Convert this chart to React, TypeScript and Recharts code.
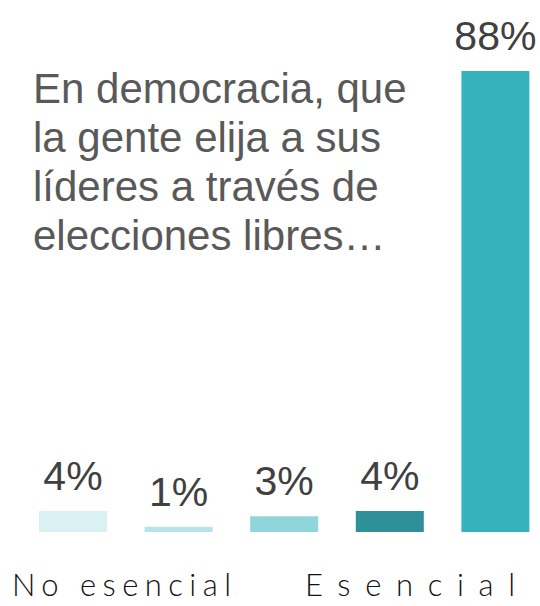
import { BarChart, Bar, XAxis, YAxis, Cell, LabelList } from 'recharts';

const categories = ['1', '2', '3', '4', '5'];
const values = [4, 1, 3, 4, 88];
const labels = ['4%', '1%', '3%', '4%', '88%'];
const COLORS = ['#DAF1F3', '#B8E4E9', '#8FD5DC', '#2E9098', '#34B3BC'];

const titleLines = [
  'En democracia, que',
  'la gente elija a sus',
  'líderes a través de',
  'elecciones libres…',
];
const scaleLabels = ['No esencial', 'Esencial'];

const data = categories.map((c, i) => ({ name: c, value: values[i], label: labels[i] }));

const FONT = '"Liberation Sans", Arial, sans-serif';

export default function App() {
  return (
    <div style={{ position: 'absolute', left: 0, top: 0, width: 540, height: 606, overflow: 'hidden', background: '#fff' }}>
      <BarChart width={548} height={606} data={data} margin={{ top: 71, right: 0, bottom: 74, left: 20 }}>
        <XAxis dataKey="name" hide />
        <YAxis hide domain={[0, 88]} />
        <Bar dataKey="value" barSize={68} isAnimationActive={false}>
          {data.map((_, i) => (
            <Cell key={i} fill={COLORS[i]} />
          ))}
          <LabelList
            dataKey="label"
            position="top"
            offset={21}
            fill="#404040"
            style={{ fontSize: 41, fontFamily: FONT }}
          />
        </Bar>
      </BarChart>
      <svg width={540} height={606} style={{ position: 'absolute', left: 0, top: 0, pointerEvents: 'none' }}>
        {titleLines.map((t, i) => (
          <text key={i} x={33} y={103 + i * 49} fontSize={42} fill="#595959" fontFamily={FONT}>
            {t}
          </text>
        ))}
        <text x={12} y={596} fontSize={31} fill="#111" fontFamily="Lato, sans-serif" fontWeight={300} textLength={219} lengthAdjust="spacing">
          {scaleLabels[0]}
        </text>
        <text x={305} y={596} fontSize={31} fill="#111" fontFamily="Lato, sans-serif" fontWeight={300} textLength={210} lengthAdjust="spacing">
          {scaleLabels[1]}
        </text>
      </svg>
    </div>
  );
}
